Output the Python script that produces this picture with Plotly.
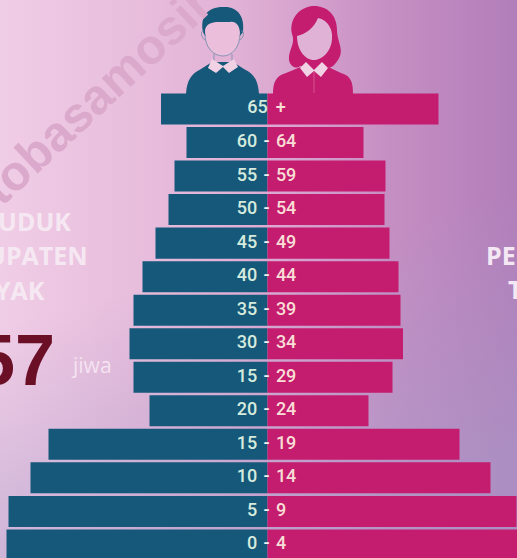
import base64
import plotly.graph_objects as go

W, H = 517, 558

# Age groups, top to bottom (as printed in the picture, including "15 - 29")
age_low = ["65", "60", "55", "50", "45", "40", "35", "30", "15", "20", "15", "10", "5", "0"]
age_high = ["+", "64", "59", "54", "49", "44", "39", "34", "29", "24", "19", "14", "9", "4"]
# Estimated population
male = [2130, 1620, 1860, 1980, 2240, 2500, 2680, 2760, 2680, 2360, 4380, 4740, 5180, 5220]
female = [3420, 1920, 2360, 2340, 2440, 2620, 2660, 2710, 2500, 2020, 3840, 4460, 4980, 5200]

X_MIN, X_MAX = -5350, 4990
Y_TOP, Y_BOTTOM = -3.25, 13.39

MALE_COLOR = "#15587A"
FEMALE_COLOR = "#C41C6E"

categories = [f"{i}: {a} {b}" for i, (a, b) in enumerate(zip(age_low, age_high))]


def label(lo, hi):
    lo_s = f"<span style='color:#D6EBDD'>{lo}</span>"
    hi_s = f"<span style='color:#F9DDD6'>{hi}</span>"
    if hi == "+":
        return f"{lo_s}\u2009 {hi_s}"
    return f"{lo_s}\u200a <span style='color:#F2F2F2'>-</span> \u200a{hi_s}"


svg = f"""<svg xmlns='http://www.w3.org/2000/svg' width='{W}' height='{H}'>
<defs>
<linearGradient id='a' x1='0' y1='0' x2='1' y2='0'>
<stop offset='0' stop-color='#F0CDE6'/>
<stop offset='0.45' stop-color='#E2B2D6'/>
<stop offset='0.75' stop-color='#C68FC3'/>
<stop offset='1' stop-color='#B27EBA'/>
</linearGradient>
<linearGradient id='b' x1='0' y1='0' x2='0.25' y2='1'>
<stop offset='0' stop-color='#A79AC8' stop-opacity='0'/>
<stop offset='0.55' stop-color='#A79AC8' stop-opacity='0'/>
<stop offset='1' stop-color='#A79AC8' stop-opacity='0.55'/>
</linearGradient>
</defs>
<rect width='{W}' height='{H}' fill='url(#a)'/>
<rect width='{W}' height='{H}' fill='url(#b)'/>
</svg>"""
bg_uri = "data:image/svg+xml;base64," + base64.b64encode(svg.encode()).decode()

fig = go.Figure()
fig.add_bar(y=categories, x=[-v for v in male], orientation="h",
            marker=dict(color=MALE_COLOR, line=dict(width=0)), name="Laki-laki", hoverinfo="skip")
fig.add_bar(y=categories, x=female, orientation="h",
            marker=dict(color=FEMALE_COLOR, line=dict(width=0)), name="Perempuan", hoverinfo="skip")
fig.add_scatter(y=categories, x=[-20] * len(categories), mode="text",
                text=[label(a, b) for a, b in zip(age_low, age_high)],
                textposition="middle center",
                textfont=dict(family="Roboto", size=18, color="#F2F2F2", weight=500),
                hoverinfo="skip", showlegend=False)


def P(x, y):
    return f"{x / W:.5f},{1 - y / H:.5f}"


def path(cmds, close=True):
    out = []
    for c in cmds:
        out.append(c[0] + " ".join(P(*pt) for pt in c[1:]))
    return " ".join(out) + (" Z" if close else "")


def shape(cmds, color):
    return dict(type="path", xref="paper", yref="paper", path=path(cmds), fillcolor=color,
                line=dict(width=0), layer="above")


def stroke(cmds, color, width=1.0):
    return dict(type="path", xref="paper", yref="paper", path=path(cmds, close=False),
                line=dict(width=width, color=color), layer="above")


FACE_M = "#EBBEDC"
FACE_F = "#DFB2D6"
COLLAR = "#F0D2E4"

shapes = [
    # man: hair, body, collar, face, jaw line and ears
    shape([("M", (203, 32)), ("C", (200, 17), (207, 7), (223, 7)), ("C", (238, 6), (245, 17), (243, 32)),
           ("L", (240, 36)), ("L", (205, 36))], MALE_COLOR),
    shape([("M", (186, 94)), ("C", (187, 80), (191, 74), (201, 69)), ("L", (212, 62)), ("L", (233, 62)),
           ("L", (244, 69)), ("C", (254, 74), (258, 80), (259, 94))], MALE_COLOR),
    shape([("M", (205, 30)), ("C", (206, 24), (212, 22), (218, 22)), ("L", (230, 22)),
           ("C", (236, 21), (240, 26), (240, 34)), ("C", (240, 47), (232, 56), (223, 56)),
           ("C", (213, 56), (205, 47), (205, 30))], FACE_M),
    stroke([("M", (205, 34)), ("C", (205, 47), (213, 56), (223, 56)), ("C", (232, 56), (240, 47), (240, 34))],
           "#6F8CA8", 0.8),
    stroke([("M", (214, 54)), ("L", (214, 62))], "#6F8CA8", 0.8),
    stroke([("M", (232, 54)), ("L", (232, 62))], "#6F8CA8", 0.8),
    stroke([("M", (204, 31)), ("C", (200, 30), (201, 38), (205, 40))], "#6F8CA8", 0.8),
    stroke([("M", (241, 31)), ("C", (245, 30), (244, 38), (240, 40))], "#6F8CA8", 0.8),
    shape([("M", (208, 68)), ("L", (212, 59)), ("L", (223, 66)), ("L", (234, 59)), ("L", (238, 67)),
           ("L", (229, 73)), ("L", (223, 67)), ("L", (216, 73))], COLLAR),
    # woman: hair, body, collar, face, blouse line
    shape([("M", (312, 6)), ("C", (326, 5), (337, 14), (337, 30)), ("C", (337, 42), (345, 50), (338, 60)),
           ("C", (334, 66), (330, 70), (326, 66)), ("L", (300, 66)), ("C", (296, 70), (290, 66), (289, 60)),
           ("C", (288, 50), (296, 44), (292, 34)), ("C", (289, 20), (298, 8), (312, 6))], FEMALE_COLOR),
    shape([("M", (273, 94)), ("C", (273, 82), (276, 76), (286, 73)), ("L", (303, 66)), ("L", (326, 66)),
           ("L", (341, 73)), ("C", (351, 76), (353, 82), (353, 94))], FEMALE_COLOR),
    shape([("M", (300, 68)), ("L", (306, 62)), ("L", (314, 70)), ("L", (322, 62)), ("L", (328, 68)),
           ("L", (321, 77)), ("L", (314, 71)), ("L", (307, 77))], COLLAR),
    shape([("M", (297, 36)), ("C", (306, 34), (314, 28), (318, 18)), ("C", (328, 20), (333, 30), (332, 38)),
           ("C", (332, 50), (323, 60), (314, 60)), ("C", (305, 60), (297, 50), (297, 36))], FACE_F),
    dict(type="line", xref="paper", yref="paper", x0=314 / W, x1=314 / W, y0=1 - 72 / H, y1=1 - 93 / H,
         line=dict(color="#D9558F", width=1), layer="above"),
]


def note(text, x, y, size, color, family, anchor="left", bold=False, angle=0):
    return dict(text=f"<b>{text}</b>" if bold else text, x=x / W, y=1 - y / H, xref="paper", yref="paper",
                xanchor=anchor, yanchor="middle", showarrow=False, textangle=angle,
                font=dict(size=size, color=color, family=family))


annotations = [
    note("tobasamosir", 96, 96, 49, "#DBA9CB", "Liberation Sans", "center", True, -43),
    note("UDUK", 73, 221, 25, "#F6E8F2", "Open Sans", "right", True),
    note("UPATEN", 90, 255, 25, "#F6E8F2", "Open Sans", "right", True),
    note("YAK", 47, 290, 25, "#F6E8F2", "Open Sans", "right", True),
    note("57", 57, 360, 72, "#6B0F26", "Liberation Sans", "right", True),
    note("jiwa", 69, 365, 21, "#F5E3F1", "Open Sans", "left"),
    note("PE", 484, 255, 25, "#F4E8F4", "Open Sans", "left", True),
    note("T", 506, 289, 25, "#F4E8F4", "Open Sans", "left", True),
]

fig.update_layout(
    width=W, height=H,
    margin=dict(l=0, r=0, t=0, b=0),
    paper_bgcolor="rgba(0,0,0,0)", plot_bgcolor="rgba(0,0,0,0)",
    barmode="overlay", bargap=0.075, showlegend=False,
    xaxis=dict(range=[X_MIN, X_MAX], visible=False, fixedrange=True),
    yaxis=dict(type="category", categoryorder="array", categoryarray=categories,
               range=[Y_BOTTOM, Y_TOP], visible=False, fixedrange=True),
    images=[dict(source=bg_uri, xref="paper", yref="paper", x=0, y=1, sizex=1, sizey=1,
                 xanchor="left", yanchor="top", sizing="stretch", layer="below")],
    shapes=shapes, annotations=annotations,
)

fig.write_html("out.html", config=dict(displayModeBar=False),
               post_script="document.body.style.margin='0';document.body.style.overflow='hidden';")
